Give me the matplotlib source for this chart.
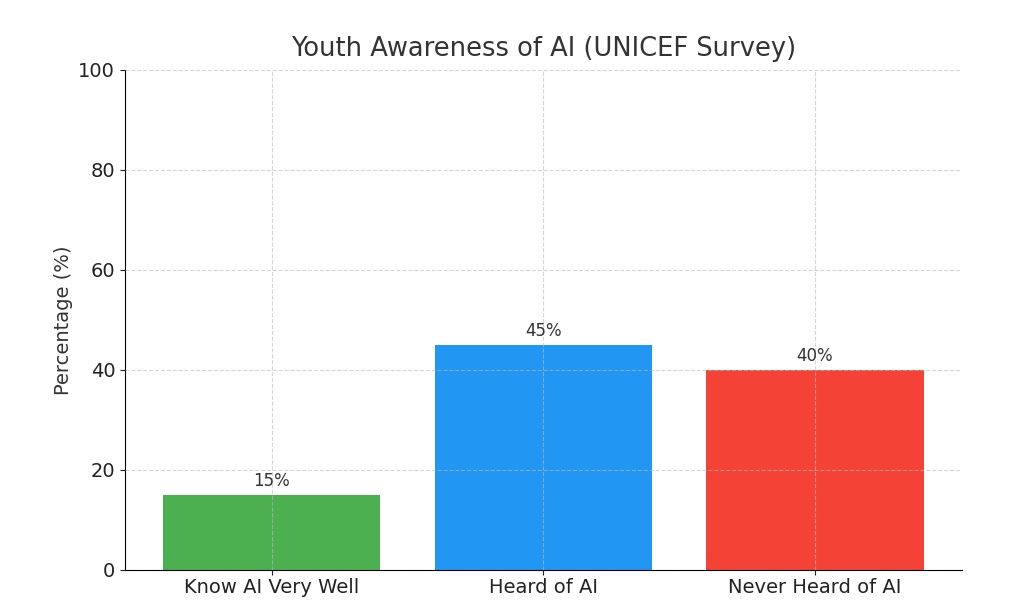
import matplotlib
matplotlib.use("Agg")
import matplotlib.pyplot as plt

categories = ["Know AI Very Well", "Heard of AI", "Never Heard of AI"]
values = [15, 45, 40]
colors = ["#4CAF50", "#2196F3", "#F44336"]
yticks = [0, 20, 40, 60, 80, 100]

fig = plt.figure(figsize=(10.24, 6.07), dpi=100)
ax = fig.add_axes([0.122, 0.061, 0.817, 0.824])
bars = ax.bar(categories, values, color=colors, width=0.8)
for b, v in zip(bars, values):
    ax.text(b.get_x() + b.get_width() / 2, v + 1, f"{v}%", ha="center", va="bottom",
            fontsize=12, color="#333333")
ax.set_ylim(0, 100)
ax.set_yticks(yticks)
ax.set_ylabel("Percentage (%)", fontsize=14, color="#333333", labelpad=4)
ax.set_title("Youth Awareness of AI (UNICEF Survey)", fontsize=18.5, color="#333333", pad=10)
ax.tick_params(axis="both", labelsize=14, colors="#222222")
ax.tick_params(axis="x", pad=2)
ax.grid(True, linestyle="--", alpha=0.6, color="#bbbbbb")
ax.set_axisbelow(False)
ax.spines["top"].set_visible(False)
ax.spines["right"].set_visible(False)
fig.savefig("out.png", dpi=100)
